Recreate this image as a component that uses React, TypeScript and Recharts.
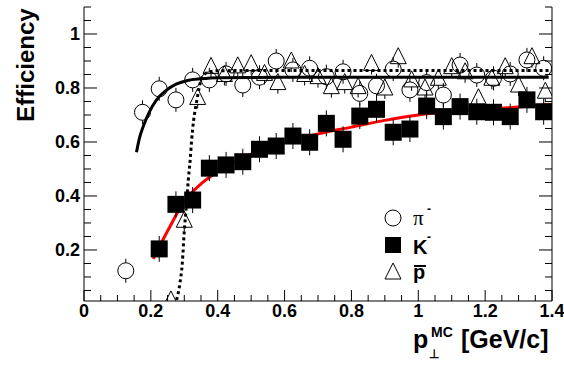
import { ComposedChart, Scatter, Line, XAxis, YAxis, Legend } from 'recharts';

// pi- efficiency, bins of 0.05 in pT
const piX = [0.125, 0.175, 0.225, 0.275, 0.325, 0.375, 0.425, 0.475, 0.525, 0.575, 0.625, 0.675, 0.725,
  0.775, 0.825, 0.875, 0.925, 0.975, 1.025, 1.075, 1.125, 1.175, 1.225, 1.275, 1.325, 1.375];
const piY = [0.123, 0.71, 0.797, 0.756, 0.83, 0.83, 0.852, 0.811, 0.84, 0.9, 0.867, 0.873, 0.842,
  0.86, 0.78, 0.808, 0.87, 0.793, 0.82, 0.774, 0.885, 0.848, 0.836, 0.852, 0.904, 0.873];

// K- efficiency
const kX = [0.225, 0.275, 0.325, 0.375, 0.425, 0.475, 0.525, 0.575, 0.625, 0.675, 0.725, 0.775,
  0.825, 0.875, 0.925, 0.975, 1.025, 1.075, 1.125, 1.175, 1.225, 1.275, 1.325, 1.375];
const kY = [0.204, 0.369, 0.385, 0.503, 0.515, 0.527, 0.573, 0.585, 0.622, 0.599, 0.669, 0.61,
  0.696, 0.721, 0.636, 0.648, 0.733, 0.694, 0.731, 0.712, 0.71, 0.694, 0.756, 0.712];

// pbar efficiency, bins of 0.04
const pbarX = [0.26, 0.3, 0.34, 0.38, 0.42, 0.46, 0.5, 0.54, 0.58, 0.62, 0.66, 0.7, 0.74, 0.78, 0.82,
  0.86, 0.9, 0.94, 0.98, 1.02, 1.06, 1.1, 1.14, 1.18, 1.22, 1.26, 1.3, 1.34, 1.38];
const pbarY = [0.015, 0.31, 0.765, 0.88, 0.85, 0.882, 0.89, 0.854, 0.82, 0.9, 0.85, 0.842, 0.805, 0.82, 0.805,
  0.891, 0.8, 0.916, 0.83, 0.8, 0.836, 0.879, 0.86, 0.764, 0.836, 0.879, 0.811, 0.916, 0.788];

// fit curves
const piFitX = [0.157, 0.165, 0.178, 0.195, 0.217, 0.245, 0.277, 0.31, 0.35, 0.4, 0.6, 1.0, 1.39];
const piFitY = [0.562, 0.61, 0.66, 0.71, 0.756, 0.79, 0.815, 0.828, 0.834, 0.838, 0.84, 0.84, 0.84];
const kFitX = [0.207, 0.25, 0.3, 0.35, 0.4, 0.5, 0.6, 0.7, 0.8, 0.9, 1.0, 1.2, 1.4];
const kFitY = [0.167, 0.27, 0.38, 0.445, 0.49, 0.555, 0.6, 0.63, 0.655, 0.68, 0.7, 0.72, 0.74];
const pbarFitX = [0.277, 0.287, 0.294, 0.3, 0.306, 0.312, 0.318, 0.322, 0.328, 0.337, 0.352, 0.37, 0.4, 0.6, 1.0, 1.4];
const pbarFitY = [0.015, 0.077, 0.15, 0.27, 0.36, 0.46, 0.54, 0.607, 0.68, 0.75, 0.835, 0.858, 0.864, 0.865, 0.865, 0.865];

const xTicks = [0, 0.05, 0.1, 0.15, 0.2, 0.25, 0.3, 0.35, 0.4, 0.45, 0.5, 0.55, 0.6, 0.65, 0.7, 0.75,
  0.8, 0.85, 0.9, 0.95, 1, 1.05, 1.1, 1.15, 1.2, 1.25, 1.3, 1.35, 1.4];
const yTicks = [0.05, 0.1, 0.15, 0.2, 0.25, 0.3, 0.35, 0.4, 0.45, 0.5, 0.55, 0.6, 0.65, 0.7, 0.75,
  0.8, 0.85, 0.9, 0.95, 1, 1.05, 1.1];

const toPts = (xs: number[], ys: number[]) => xs.map((x, i) => ({ x, y: ys[i] }));
const piData = toPts(piX, piY);
const kData = toPts(kX, kY);
const pbarData = toPts(pbarX, pbarY);
const piFit = toPts(piFitX, piFitY);
const kFit = toPts(kFitX, kFitY);
const pbarFit = toPts(pbarFitX, pbarFitY);

const FONT = '"Liberation Sans", Arial, Helvetica, sans-serif';
const PT = 7, PB = 301, PL = 84, PR = 552;

const isMajor = (v: number) => Math.abs(v * 5 - Math.round(v * 5)) < 1e-6;
const fmt = (v: number) => String(Math.round(v * 10) / 10);

const BottomTick = ({ x, payload }: any) => {
  const major = isMajor(payload.value);
  return (
    <g>
      <line x1={x} x2={x} y1={PB} y2={PB - (major ? 11 : 6)} stroke="#000" />
      {major && (
        <text x={x} y={PB + 16} textAnchor="middle" fontFamily={FONT} fontWeight="bold" fontSize={18} fill="#000">
          {fmt(payload.value)}
        </text>
      )}
    </g>
  );
};

const TopTick = ({ x, payload }: any) => {
  const major = isMajor(payload.value);
  return <line x1={x} x2={x} y1={PT} y2={PT + (major ? 11 : 6)} stroke="#000" />;
};

const LeftTick = ({ y, payload }: any) => {
  const v = payload.value;
  const major = isMajor(v) && v < 1.05;
  return (
    <g>
      <line x1={PL} x2={PL + (major ? 13 : 7)} y1={y} y2={y} stroke="#000" />
      {major && (
        <text x={80} y={y + 6.5} textAnchor="end" fontFamily={FONT} fontWeight="bold" fontSize={18} fill="#000">
          {fmt(v)}
        </text>
      )}
    </g>
  );
};

const RightTick = ({ y, payload }: any) => {
  const major = isMajor(payload.value) && payload.value < 1.05;
  return <line x1={PR} x2={PR - (major ? 13 : 7)} y1={y} y2={y} stroke="#000" />;
};

const OpenCircle = ({ cx, cy }: any) => (
  <g stroke="#000" fill="none" strokeWidth={1}>
    <circle cx={cx} cy={cy} r={8} />
    <line x1={cx} x2={cx} y1={cy - 8} y2={cy - 12} />
    <line x1={cx} x2={cx} y1={cy + 8} y2={cy + 12} />
  </g>
);

const FullSquare = ({ cx, cy }: any) => (
  <g>
    <rect x={cx - 8.5} y={cy - 8.5} width={17} height={17} fill="#000" />
    <line x1={cx} x2={cx} y1={cy - 8} y2={cy - 13} stroke="#000" />
    <line x1={cx} x2={cx} y1={cy + 8} y2={cy + 13} stroke="#000" />
  </g>
);

const OpenTriangle = ({ cx, cy }: any) => (
  <g stroke="#000" fill="none" strokeWidth={1}>
    <polygon points={`${cx},${cy - 9} ${cx - 8},${cy + 7} ${cx + 8},${cy + 7}`} />
    <line x1={cx} x2={cx} y1={cy + 7} y2={cy + 11} />
  </g>
);

const LegendBox = () => (
  <svg width={90} height={90} style={{ overflow: 'visible' }}>
    <circle cx={13} cy={13} r={8} fill="none" stroke="#000" />
    <text x={33} y={20} fontFamily='"Liberation Serif", "DejaVu Serif", serif' fontSize={21} fill="#000">π</text>
    <text x={47} y={8} fontFamily={FONT} fontWeight="bold" fontSize={12} fill="#000">-</text>
    <rect x={5} y={32} width={16} height={16} fill="#000" />
    <text x={33} y={49} fontFamily={FONT} fontWeight="bold" fontSize={20} fill="#000">K</text>
    <text x={47} y={36} fontFamily={FONT} fontWeight="bold" fontSize={12} fill="#000">-</text>
    <polygon points="13,58 5,74 21,74" fill="none" stroke="#000" />
    <line x1={34} x2={46} y1={61} y2={61} stroke="#000" strokeWidth={2} />
    <text x={33} y={74} fontFamily={FONT} fontWeight="bold" fontSize={20} fill="#000">p</text>
  </svg>
);

export default function App() {
  return (
    <div style={{ position: 'absolute', left: 0, top: 0, background: '#fff' }}>
      <ComposedChart width={564} height={377} margin={{ top: PT, right: 0, bottom: 46, left: 0 }}>
        <XAxis
          dataKey="x"
          type="number"
          domain={[0, 1.4]}
          allowDataOverflow
          ticks={xTicks}
          interval={0}
          tickLine={false}
          tick={<BottomTick />}
          height={30}
          axisLine={{ stroke: '#000' }}
          label={{
            content: () => (
              <text fontFamily={FONT} fontWeight="bold" fill="#000">
                <tspan x={413} y={348} fontSize={25}>p</tspan>
                <tspan x={429} y={358} fontSize={12}>⊥</tspan>
                <tspan x={431} y={337} fontSize={14}>MC</tspan>
                <tspan x={461} y={348} fontSize={25}>[GeV/c]</tspan>
              </text>
            ),
          }}
        />
        <XAxis
          xAxisId="top"
          orientation="top"
          dataKey="x"
          type="number"
          domain={[0, 1.4]}
          allowDataOverflow
          ticks={xTicks}
          interval={0}
          tickLine={false}
          tick={<TopTick />}
          height={0}
          axisLine={{ stroke: '#000' }}
          label={{
            content: () => (
              <text x={112} y={40} fontFamily={FONT} fontWeight="bold" fontSize={24} fill="#000">
                (a) Au+Au 62 GeV 70-80%
              </text>
            ),
          }}
        />
        <YAxis
          dataKey="y"
          type="number"
          domain={[0.011, 1.1]}
          allowDataOverflow
          ticks={yTicks}
          interval={0}
          tickLine={false}
          tick={<LeftTick />}
          width={84}
          axisLine={{ stroke: '#000' }}
          label={{
            content: () => (
              <text transform="rotate(-90)" x={-65} y={34} textAnchor="middle" fontFamily={FONT} fontWeight="bold" fontSize={24} fill="#000">
                Efficiency
              </text>
            ),
          }}
        />
        <YAxis
          yAxisId="right"
          orientation="right"
          type="number"
          domain={[0.011, 1.1]}
          allowDataOverflow
          ticks={yTicks}
          interval={0}
          tickLine={false}
          tick={<RightTick />}
          width={12}
          axisLine={{ stroke: '#000' }}
        />
        <Scatter data={piData} dataKey="y" shape={<OpenCircle />} isAnimationActive={false} legendType="none" />
        <Scatter data={pbarData} dataKey="y" shape={<OpenTriangle />} isAnimationActive={false} legendType="none" />
        <Scatter data={kData} dataKey="y" shape={<FullSquare />} isAnimationActive={false} legendType="none" />
        <Line data={piFit} dataKey="y" type="monotone" stroke="#000" strokeWidth={3} dot={false} activeDot={false} isAnimationActive={false} legendType="none" />
        <Line data={pbarFit} dataKey="y" type="monotone" stroke="#000" strokeWidth={3} strokeDasharray="3 3" dot={false} activeDot={false} isAnimationActive={false} legendType="none" />
        <Line data={kFit} dataKey="y" type="monotone" stroke="#ff0000" strokeWidth={3} dot={false} activeDot={false} isAnimationActive={false} legendType="none" />
        <Legend
          layout="horizontal"
          verticalAlign="middle"
          align="center"
          content={<LegendBox />}
          wrapperStyle={{ left: 380, top: 205, width: 90, height: 90 }}
        />
      </ComposedChart>
    </div>
  );
}
